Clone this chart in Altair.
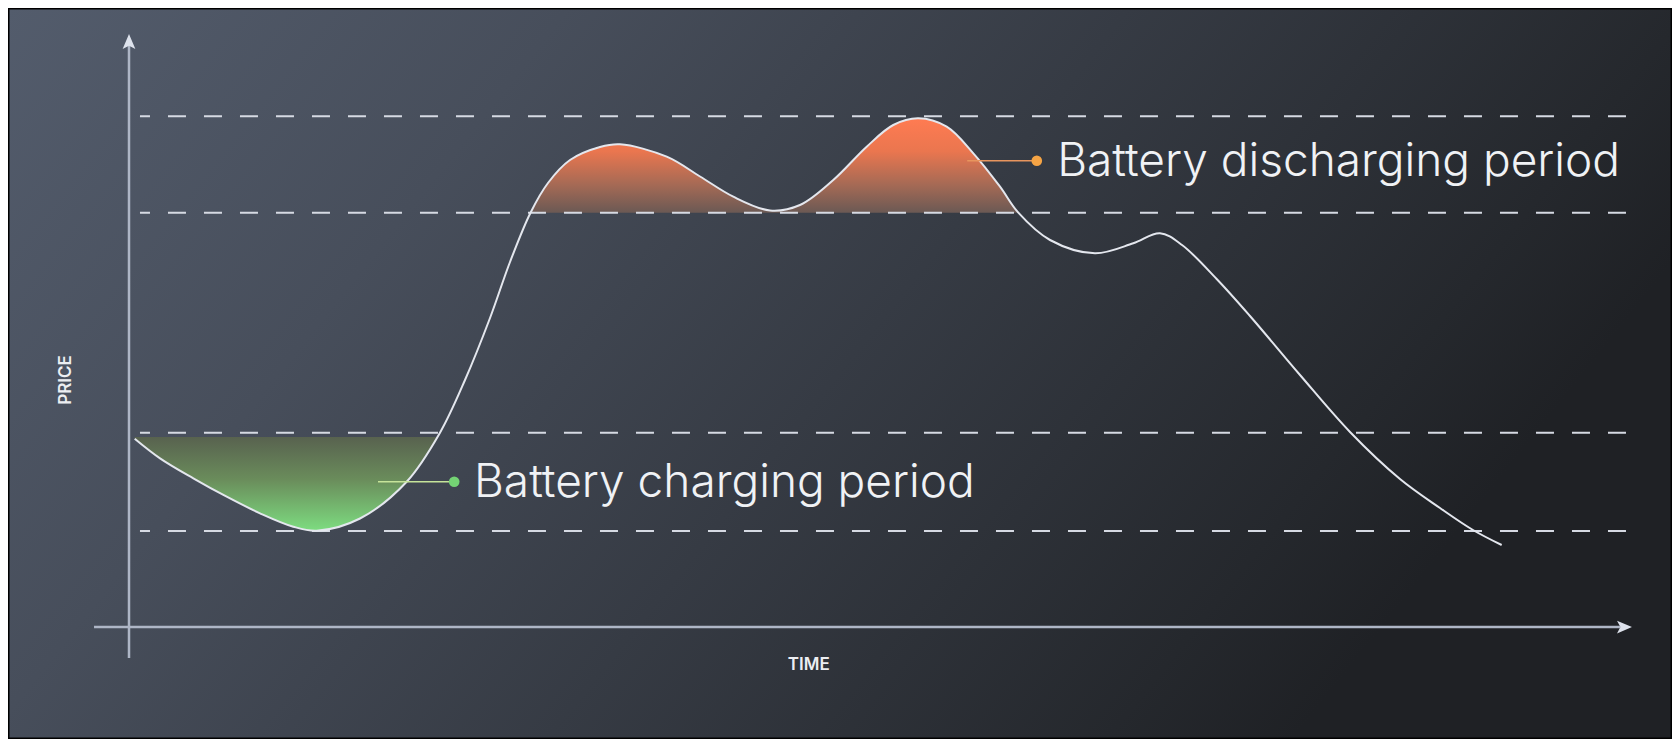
import altair as alt
import pandas as pd

W, H = 1664, 731

# ---- data (time in arbitrary hours, price in arbitrary units) ----
time = [0.095, 0.517, 1.072, 1.628, 2.183, 2.738, 3.128, 3.85, 4.628, 5.183,
        5.6, 6.017, 6.35, 6.692, 6.983, 7.35, 7.85, 8.183, 8.962,
        9.517, 10.072, 10.683, 11.183, 11.738, 12.295, 12.738, 13.155, 13.628,
        14.072, 14.517, 14.822, 15.35, 16.1, 16.738, 17.183, 17.55, 18.128,
        18.683, 19.517, 20.35, 21.183, 21.85, 22.4, 22.878]
price = [37.66, 33.74, 29.74, 26.06, 22.74, 20.06, 19.26, 21.7, 29.06, 38.86,
         49.4, 61.8, 73.0, 82.86, 88.8, 93.4, 96.0, 96.54, 94.06,
         90.1, 86.06, 83.3, 84.4, 89.4, 96.06, 100.4, 101.74, 100.06,
         94.74, 88.06, 82.86, 77.4, 74.74, 76.74, 78.74, 76.4, 69.6,
         62.2, 50.4, 39.0, 29.6, 23.8, 19.4, 16.4]

levels = [102.14, 82.86, 38.86, 19.2]          # dashed reference levels
charge_level = 38.0                             # top of charging fill
discharge_level = 82.86                         # bottom of discharging fill

charge_time = time[0:9] + [5.138]
charge_price = price[0:9] + [38.0]
discharge_time = time[13:31]
discharge_price = price[13:31]

labels = ["Battery charging period", "Battery discharging period"]
label_t = [5.75, 15.47]
label_p = [26.06, 90.2]
dot_t = [5.42, 15.13]
dot_p = [29.06, 93.26]
leader_start = [4.15, 13.97]

X_MIN, X_MAX = -2.0167, 25.7167
Y_MIN, Y_MAX = -22.4, 123.8

xs = alt.Scale(domain=[X_MIN, X_MAX], nice=False, zero=False)
ys = alt.Scale(domain=[Y_MIN, Y_MAX], nice=False, zero=False)
INTERP = "catmull-rom"


def XD(v):
    return alt.XDatum(v, type="quantitative", scale=xs, axis=None)


def YD(v):
    return alt.YDatum(v, type="quantitative", scale=ys, axis=None)


one = alt.Data(values=[{"k": 1}])

bg = alt.Chart(one).mark_rect(
    fill=alt.LinearGradient(
        gradient="linear", x1=0, y1=0, x2=1, y2=0.35,
        stops=[alt.GradientStop(color="#535c6c", offset=0),
               alt.GradientStop(color="#474e5b", offset=0.3),
               alt.GradientStop(color="#363b44", offset=0.6),
               alt.GradientStop(color="#25282d", offset=0.9),
               alt.GradientStop(color="#1f2125", offset=1)]),
    stroke="black", strokeWidth=3,
).encode(x=alt.value(0), x2=alt.value(W), y=alt.value(0), y2=alt.value(H))

curve_df = pd.DataFrame({"time": time, "price": price})
charge_df = pd.DataFrame({"time": charge_time, "price": charge_price})
discharge_df = pd.DataFrame({"time": discharge_time, "price": discharge_price})

green = alt.Chart(charge_df).mark_area(
    interpolate=INTERP,
    fill=alt.LinearGradient(
        gradient="linear", x1=0, y1=0, x2=0, y2=1,
        stops=[alt.GradientStop(color="#58624f", offset=0),
               alt.GradientStop(color="#6a8c5b", offset=0.45),
               alt.GradientStop(color="#7ddc80", offset=1)]),
).encode(
    x=alt.X("time:Q", scale=xs, axis=None),
    y=alt.Y("price:Q", scale=ys, axis=None),
    y2=alt.Y2Datum(charge_level),
)

orange = alt.Chart(discharge_df).mark_area(
    interpolate=INTERP,
    fill=alt.LinearGradient(
        gradient="linear", x1=0, y1=0, x2=0, y2=1,
        stops=[alt.GradientStop(color="#ff7b52", offset=0),
               alt.GradientStop(color="#ea764f", offset=0.35),
               alt.GradientStop(color="#a66a55", offset=0.7),
               alt.GradientStop(color="#6b5954", offset=1)]),
).encode(
    x=alt.X("time:Q", scale=xs, axis=None),
    y=alt.Y("price:Q", scale=ys, axis=None),
    y2=alt.Y2Datum(discharge_level),
)

levels_df = pd.DataFrame({"level": levels})
dashes = alt.Chart(levels_df).mark_rule(
    color="#d6dae3", strokeWidth=2, strokeDash=[18, 18], strokeDashOffset=8
).encode(
    y=alt.Y("level:Q", scale=ys, axis=None),
    x=XD(0.183), x2=alt.X2Datum(25.05),
)

line = alt.Chart(curve_df).mark_line(
    color="#e4e7ee", strokeWidth=2, interpolate=INTERP
).encode(
    x=alt.X("time:Q", scale=xs, axis=None),
    y=alt.Y("price:Q", scale=ys, axis=None),
)

axis_col = "#aeb6c6"
y_axis = alt.Chart(one).mark_rule(color=axis_col, strokeWidth=2.5).encode(
    x=XD(0), y=YD(-6.2), y2=alt.Y2Datum(116.4))
x_axis = alt.Chart(one).mark_rule(color=axis_col, strokeWidth=2.5).encode(
    y=YD(0), x=XD(-0.583), x2=alt.X2Datum(24.85))
up_arrow = alt.Chart(one).mark_point(
    shape="M0,-1L0.85,1L0,0.55L-0.85,1Z", size=225, filled=True,
    color="#dde2ec", opacity=1, strokeWidth=0,
).encode(x=XD(0), y=YD(117.1))
right_arrow = alt.Chart(one).mark_point(
    shape="M1,0L-1,0.85L-0.55,0L-1,-0.85Z", size=225, filled=True,
    color="#dde2ec", opacity=1, strokeWidth=0,
).encode(x=XD(24.925), y=YD(0))

price_lbl = alt.Chart(one).mark_text(
    text="PRICE", angle=270, fontSize=17, font="Inter", fontWeight=600,
    color="#eceef2",
).encode(x=XD(-1.05), y=YD(49.4))
time_lbl = alt.Chart(one).mark_text(
    text="TIME", fontSize=17, font="Inter", fontWeight=600, color="#eceef2",
).encode(x=XD(11.33), y=YD(-7.6))

leader_cols = ["#c6e49a", "#e8955e"]
dot_cols = ["#74d374", "#f5a445"]
ann = []
for i in range(2):
    ann.append(alt.Chart(one).mark_rule(color=leader_cols[i], strokeWidth=1.5).encode(
        x=XD(leader_start[i]), x2=alt.X2Datum(dot_t[i]), y=YD(dot_p[i])))
    ann.append(alt.Chart(one).mark_point(
        filled=True, size=113, color=dot_cols[i], opacity=1, strokeWidth=0
    ).encode(x=XD(dot_t[i]), y=YD(dot_p[i])))
    ann.append(alt.Chart(one).mark_text(
        text=labels[i], align="left", baseline="alphabetic", fontSize=46,
        font="Inter", fontWeight=300, color="#f0f2f5",
    ).encode(x=XD(label_t[i]), y=YD(label_p[i])))

chart = alt.layer(
    bg, green, orange, dashes, line, y_axis, x_axis, up_arrow, right_arrow,
    price_lbl, time_lbl, *ann
).properties(
    width=W, height=H,
    autosize=alt.AutoSizeParams(type="none"),
    padding=0,
    background="white",
).configure_view(strokeWidth=0)

chart.save("out.html", embed_options={"renderer": "svg", "actions": False})
